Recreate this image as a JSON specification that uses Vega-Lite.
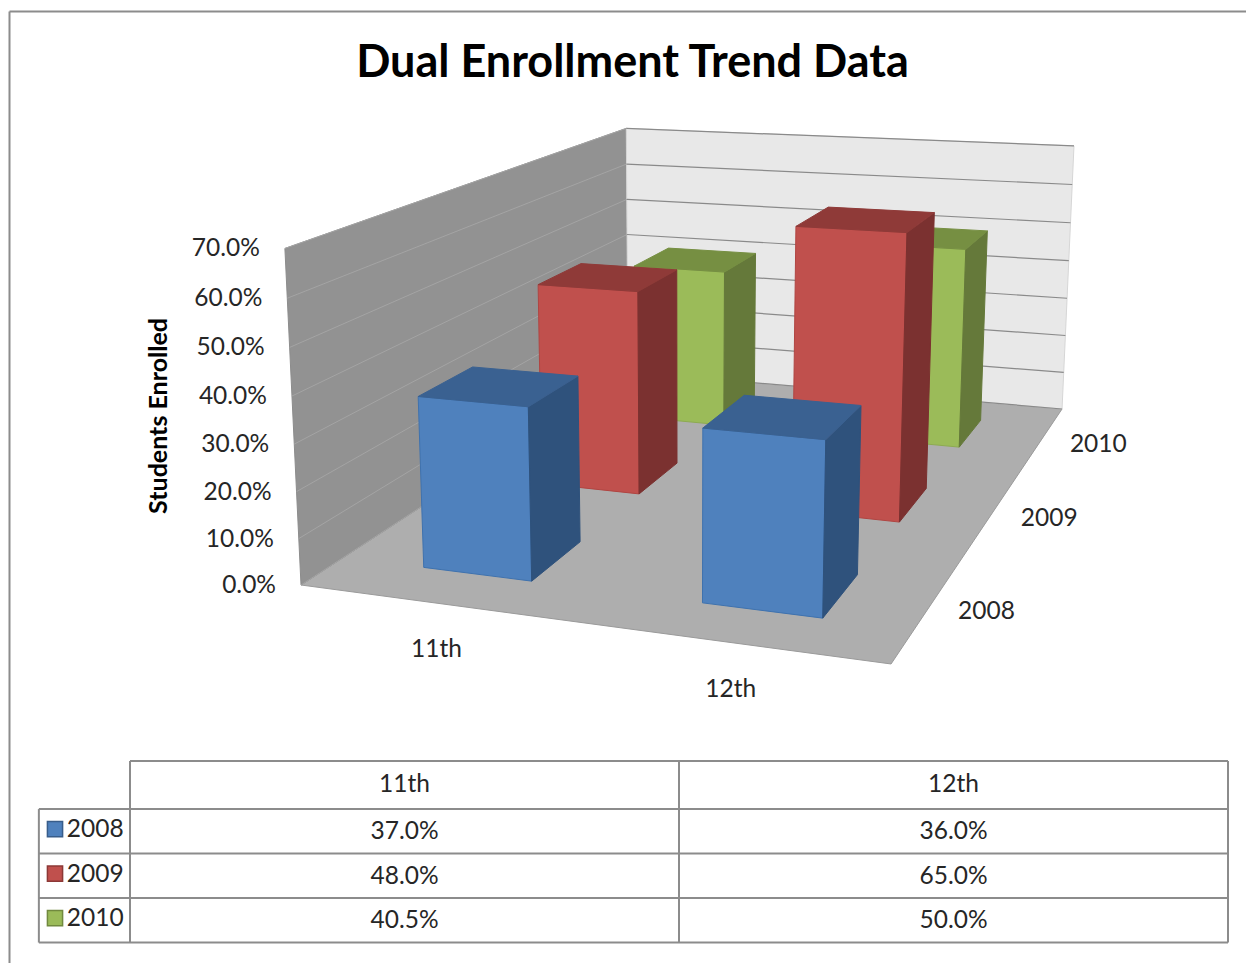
{"$schema":"https://vega.github.io/schema/vega-lite/v6.json","width":1237,"height":952,"autosize":"none","padding":{"left":9,"top":11,"right":0,"bottom":0},"background":"white","config":{"view":{"stroke":null,"fill":"white"},"text":{"font":"Lato"}},
"title":{"text":"Dual Enrollment Trend Data","font":"Lato","fontWeight":"bold","fontSize":45,"color":"#000000","anchor":"middle","offset":-75,"dx":5},
"resolve":{"scale":{"fill":"independent","stroke":"independent"}},
"datasets":{
"bars":[{"grade":"11th","year":2010,"value":40.5},{"grade":"12th","year":2010,"value":50},{"grade":"11th","year":2009,"value":48},{"grade":"12th","year":2009,"value":65},{"grade":"11th","year":2008,"value":37},{"grade":"12th","year":2008,"value":36}],
"walls":[{"shape":"floor","ord":0,"u":0,"d":0,"v":0},{"shape":"floor","ord":1,"u":1,"d":0,"v":0},{"shape":"floor","ord":2,"u":1,"d":1,"v":0},{"shape":"floor","ord":3,"u":0,"d":1,"v":0},{"shape":"left","ord":0,"u":0,"d":0,"v":0},{"shape":"left","ord":1,"u":0,"d":1,"v":0},{"shape":"left","ord":2,"u":0,"d":1,"v":70},{"shape":"left","ord":3,"u":0,"d":0,"v":70},{"shape":"back","ord":0,"u":0,"d":1,"v":0},{"shape":"back","ord":1,"u":1,"d":1,"v":0},{"shape":"back","ord":2,"u":1,"d":1,"v":70},{"shape":"back","ord":3,"u":0,"d":1,"v":70}],
"ticks":[{"tick":0},{"tick":10},{"tick":20},{"tick":30},{"tick":40},{"tick":50},{"tick":60},{"tick":70}],
"grades":[{"grade":"11th","col":0.5},{"grade":"12th","col":1.5}],
"years":[{"year":2008},{"year":2009},{"year":2010}],
"tableLines":[{"c1":0,"c2":2,"r1":0,"r2":0},{"c1":-0.166,"c2":2,"r1":1.08,"r2":1.08},{"c1":-0.166,"c2":2,"r1":2.08,"r2":2.08},{"c1":-0.166,"c2":2,"r1":3.08,"r2":3.08},{"c1":-0.166,"c2":2,"r1":4.08,"r2":4.08},{"c1":-0.166,"c2":-0.166,"r1":1.08,"r2":4.08},{"c1":0,"c2":0,"r1":0,"r2":4.08},{"c1":1,"c2":1,"r1":0,"r2":4.08},{"c1":2,"c2":2,"r1":0,"r2":4.08}]
},
"encoding":{"x":{"field":"X","type":"quantitative","axis":{"orient":"top","labels":false,"ticks":false,"grid":false,"title":null,"domainColor":"#8c8c8c","domainWidth":2},"scale":{"domain":[9,1246],"zero":false,"nice":false}},"y":{"field":"Y","type":"quantitative","axis":{"orient":"left","labels":false,"ticks":false,"grid":false,"title":null,"domainColor":"#8c8c8c","domainWidth":2},"scale":{"domain":[11,963],"reverse":true,"zero":false,"nice":false}}},
"layer":[
{"data":{"name":"walls"},"transform":[{"calculate":"datum.v/70","as":"vn"},{"calculate":"1-0.10645*datum.u+0.4014*datum.d-0.04*datum.vn","as":"W"},{"calculate":"(301+495.2*datum.u+579.1*datum.d-27.5*datum.vn)/datum.W","as":"X"},{"calculate":"(585+8.3*datum.u-63.7*datum.d-346.5*datum.vn)/datum.W","as":"Y"}],
"mark":{"type":"line","filled":true,"interpolate":"linear-closed","strokeWidth":1},
"encoding":{"order":{"field":"ord"},"fill":{"field":"shape","legend":null,"scale":{"domain":["floor","left","back"],"range":["#aeaeae","#929292","#e8e8e8"]}},"stroke":{"field":"shape","legend":null,"scale":{"domain":["floor","left","back"],"range":["#9a9a9a","#8c8c8c","#d6d6d6"]}}}},
{"data":{"name":"ticks"},"transform":[{"calculate":"[0,1]","as":"vertex"},{"flatten":["vertex"]},{"calculate":"datum.vertex","as":"d"},{"calculate":"datum.tick/70","as":"vn"},{"calculate":"1+0.4014*datum.d-0.04*datum.vn","as":"W"},{"calculate":"(301+579.1*datum.d-27.5*datum.vn)/datum.W","as":"X"},{"calculate":"(585-63.7*datum.d-346.5*datum.vn)/datum.W","as":"Y"}],
"mark":{"type":"line","stroke":"#a4a4a4","strokeWidth":1},"encoding":{"order":{"field":"vertex"},"detail":{"field":"tick"}}},
{"data":{"name":"ticks"},"transform":[{"calculate":"[0,1]","as":"vertex"},{"flatten":["vertex"]},{"calculate":"datum.vertex","as":"u"},{"calculate":"datum.tick/70","as":"vn"},{"calculate":"1-0.10645*datum.u+0.4014-0.04*datum.vn","as":"W"},{"calculate":"(301+495.2*datum.u+579.1-27.5*datum.vn)/datum.W","as":"X"},{"calculate":"(585+8.3*datum.u-63.7-346.5*datum.vn)/datum.W","as":"Y"}],
"mark":{"type":"line","stroke":"#8a8a8a","strokeWidth":1.2},"encoding":{"order":{"field":"vertex"},"detail":{"field":"tick"}}},
{"data":{"name":"bars"},"transform":[{"calculate":"[0,1,2]","as":"face"},{"flatten":["face"]},{"calculate":"[0,1,2,3]","as":"vertex"},{"flatten":["vertex"]},{"calculate":"datum.year+'-'+datum.grade+'-'+datum.face","as":"key"},{"calculate":"datum.year+'-'+datum.face","as":"tone"},{"calculate":"(datum.grade=='11th'?0.254:0.754)+0.1*((datum.face==1||datum.vertex==1||datum.vertex==2)?1:-1)","as":"u"},{"calculate":"(datum.year-2008+0.5)/3+0.07*(datum.face==0?-1:datum.face==1?((datum.vertex==1||datum.vertex==2)?1:-1):(datum.vertex>=2?1:-1))","as":"d"},{"calculate":"(datum.face==2||datum.vertex>=2)?datum.value/70:0","as":"vn"},{"calculate":"1-0.10645*datum.u+0.4014*datum.d-0.04*datum.vn","as":"W"},{"calculate":"(301+495.2*datum.u+579.1*datum.d-27.5*datum.vn)/datum.W","as":"X"},{"calculate":"(585+8.3*datum.u-63.7*datum.d-346.5*datum.vn)/datum.W","as":"Y"}],
"mark":{"type":"line","filled":true,"interpolate":"linear-closed","strokeWidth":1},
"encoding":{"order":{"field":"vertex"},"detail":{"field":"key"},
"fill":{"field":"tone","legend":null,"scale":{"domain":["2008-0","2008-1","2008-2","2009-0","2009-1","2009-2","2010-0","2010-1","2010-2"],"range":["#4f81bd","#2f527c","#3a6191","#c0504d","#7b3130","#8f3a38","#9bbb59","#65793a","#768f42"]}},
"stroke":{"field":"tone","legend":null,"scale":{"domain":["2008-0","2008-1","2008-2","2009-0","2009-1","2009-2","2010-0","2010-1","2010-2"],"range":["#3f72ae","#2f527c","#3a6191","#b04542","#7b3130","#8f3a38","#8dab50","#65793a","#768f42"]}}}},
{"data":{"name":"ticks"},"transform":[{"calculate":"format(datum.tick/100,'.1%')","as":"label"},{"calculate":"datum.tick/70","as":"vn"},{"calculate":"1-0.04*datum.vn","as":"W"},{"calculate":"(301-27.5*datum.vn)/datum.W","as":"X"},{"calculate":"(585-346.5*datum.vn)/datum.W","as":"Y"}],
"mark":{"type":"text","align":"right","baseline":"middle","dx":-25,"dy":1,"fontSize":24.5,"fill":"#262626"},"encoding":{"text":{"field":"label"}}},
{"data":{"name":"grades"},"transform":[{"calculate":"datum.col/2","as":"u"},{"calculate":"1-0.10645*datum.u","as":"W"},{"calculate":"(301+495.2*datum.u)/datum.W","as":"X"},{"calculate":"(585+8.3*datum.u)/datum.W","as":"Y"}],
"mark":{"type":"text","align":"center","baseline":"middle","dy":47,"fontSize":24.5,"fill":"#262626"},"encoding":{"text":{"field":"grade"}}},
{"data":{"name":"years"},"transform":[{"calculate":"(datum.year-2008+0.5)/3","as":"d"},{"calculate":"0.89355+0.4014*datum.d","as":"W"},{"calculate":"(796.2+579.1*datum.d)/datum.W","as":"X"},{"calculate":"(593.3-63.7*datum.d)/datum.W","as":"Y"}],
"mark":{"type":"text","align":"center","baseline":"middle","dx":57,"dy":5.5,"fontSize":24.5,"fill":"#262626"},"encoding":{"text":{"field":"year","type":"nominal"}}},
{"data":{"values":[{"name":"Students Enrolled","v":35}]},"transform":[{"calculate":"datum.v/70","as":"vn"},{"calculate":"1-0.04*datum.vn","as":"W"},{"calculate":"(301-29.3*datum.vn)/datum.W","as":"X"},{"calculate":"(585-348.8*datum.vn)/datum.W","as":"Y"}],
"mark":{"type":"text","align":"center","baseline":"middle","angle":270,"dy":-133,"dx":3,"fontSize":25,"fontWeight":"bold","fill":"#000000"},"encoding":{"text":{"field":"name"}}},
{"data":{"name":"tableLines"},"transform":[{"calculate":"130+549*datum.c1","as":"X"},{"calculate":"130+549*datum.c2","as":"X2"},{"calculate":"761+44.5*datum.r1","as":"Y"},{"calculate":"761+44.5*datum.r2","as":"Y2"}],
"mark":{"type":"rule","stroke":"#8c8c8c","strokeWidth":2},"encoding":{"x2":{"field":"X2"},"y2":{"field":"Y2"}}},
{"data":{"name":"grades"},"transform":[{"calculate":"130+549*datum.col","as":"X"},{"calculate":"762+44.5*0.52","as":"Y"}],
"mark":{"type":"text","align":"center","baseline":"middle","fontSize":24.5,"fill":"#262626"},"encoding":{"text":{"field":"grade"}}},
{"data":{"name":"bars"},"transform":[{"calculate":"format(datum.value/100,'.1%')","as":"label"},{"calculate":"130+549*(datum.grade=='11th'?0.5:1.5)","as":"X"},{"calculate":"762+44.5*(datum.year-2008+1.58)","as":"Y"}],
"mark":{"type":"text","align":"center","baseline":"middle","fontSize":24.5,"fill":"#262626"},"encoding":{"text":{"field":"label"}}},
{"data":{"name":"years"},"transform":[{"calculate":"130+549*(-0.115)","as":"X"},{"calculate":"762+44.5*(datum.year-2008+1.53)","as":"Y"}],
"mark":{"type":"text","align":"left","baseline":"middle","fontSize":24.5,"fill":"#262626"},"encoding":{"text":{"field":"year","type":"nominal"}}},
{"data":{"name":"years"},"transform":[{"calculate":"130+549*(-0.1366)","as":"X"},{"calculate":"761+44.5*(datum.year-2008+1.53)","as":"Y"}],
"mark":{"type":"point","shape":"square","filled":true,"size":230,"opacity":1,"strokeWidth":1.5},
"encoding":{"fill":{"field":"year","type":"nominal","legend":null,"scale":{"domain":[2008,2009,2010],"range":["#4f81bd","#c0504d","#9bbb59"]}},"stroke":{"field":"year","type":"nominal","legend":null,"scale":{"domain":[2008,2009,2010],"range":["#385d8a","#8c3836","#71893f"]}}}}
]}
